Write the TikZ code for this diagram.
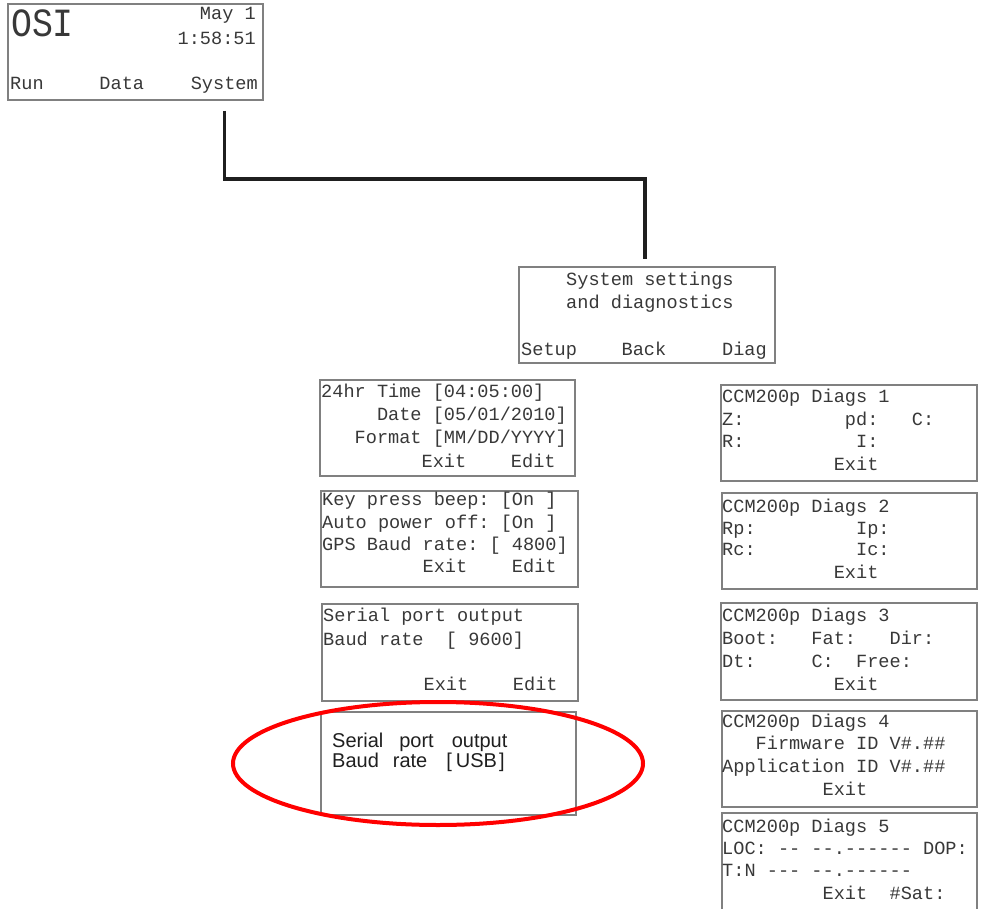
\documentclass[tikz,border=0pt]{standalone}
\usepackage{fontspec}
\usepackage{xcolor}
\usepackage{tikz}
\usetikzlibrary{positioning}
\newfontfamily\lcdfamily{Liberation Mono}
\newfontfamily\usbfamily{Liberation Sans}
\newcommand\lcdtxt{\lcdfamily\fontsize{18.6pt}{22pt}\selectfont}
\tikzset{
  screen/.style={draw=black!50, line width=1.1pt, anchor=north west, inner sep=0pt, outer sep=0pt},
  lcd/.style={font=\lcdtxt, text=black!78, anchor=base west, inner sep=0pt},
  lcdr/.style={lcd, anchor=base east},
  link/.style={line width=3.6pt, black!88},
}
\begin{document}
\begin{tikzpicture}[x=1pt,y=-1pt]
\useasboundingbox (0,0) rectangle (982,909);
% main screen
\node[screen, minimum width=255pt, minimum height=96pt] (osi) at (8,4) {};
\node[lcd, font=\lcdfamily\fontsize{40pt}{40pt}\selectfont] (osititle) at (11,37) {\scalebox{0.87}[1]{OSI}};
\node[lcdr] (osidate) at (256,20) {May~1};
\node[lcdr] (ositime) at (256,45) {1:58:51};
\node[lcd] (osirun) at (10,90) {Run~~~~~Data~~~~};
\node[lcdr] (osisys) at (258,90) {System};
% system menu
\node[screen, minimum width=256pt, minimum height=96pt] (sysset) at (519,267) {};
\node[lcd] (sys1) at (566,286) {System~settings};
\node[lcd] (sys2) at (566,308) {and~diagnostics};
\node[lcd] (sys3) at (521,355) {Setup~~~~Back~~~~~Diag};
\draw[link] ([yshift=-11pt]osi.south -| osisys) -- (osisys |- 0,179) -| ([xshift=-2pt,yshift=8pt]sysset.north);
% setup screens
\node[screen, minimum width=255pt, minimum height=96pt] (timebox) at (320,380) {};
\node[lcd] (time1) at (321,397) {24hr~Time~[04:05:00]};
\node[lcd] (time2) at (321,420) {~~~~~Date~[05/01/2010]};
\node[lcd] (time3) at (321,443) {~~~Format~[MM/DD/YYYY]};
\node[lcd] (time4) at (321,467) {~~~~~~~~~Exit~~~~Edit};
\node[screen, minimum width=257pt, minimum height=96pt] (prefbox) at (321,491) {};
\node[lcd] (pref1) at (322,505) {Key~press~beep:~[On~]};
\node[lcd] (pref2) at (322,528) {Auto~power~off:~[On~]};
\node[lcd] (pref3) at (322,550) {GPS~Baud~rate:~[~4800]};
\node[lcd] (pref4) at (322,572) {~~~~~~~~~Exit~~~~Edit};
\node[screen, minimum width=256pt, minimum height=97pt] (serialbox) at (322,604) {};
\node[lcd] (ser1) at (323,621) {Serial~port~output};
\node[lcd] (ser2) at (323,645) {Baud~rate~~[~9600]};
\node[lcd] (ser3) at (323,690) {~~~~~~~~~Exit~~~~Edit};
\node[screen, minimum width=255pt, minimum height=103pt] (usbbox) at (321,712) {};
\node[anchor=base west, inner sep=0pt, font=\usbfamily\fontsize{20pt}{20pt}\selectfont, text=black!88] (usb1) at (332,747) {Serial\hspace{16pt}port\hspace{18pt}output};
\node[anchor=base west, inner sep=0pt, font=\usbfamily\fontsize{20pt}{20pt}\selectfont, text=black!88] (usb2) at (332,767) {Baud\hspace{14pt}rate\hspace{19pt}[\hspace{4pt}USB\hspace{2pt}]};
\draw[red, line width=4pt] (438,763.5) ellipse [x radius=205pt, y radius=61.5pt];
% diagnostics screens
\node[screen, minimum width=256pt, minimum height=96pt] (diag1) at (721,385) {};
\node[lcd] (d1a) at (722,402) {CCM200p~Diags~1};
\node[lcd] (d1b) at (722,425) {Z:~~~~~~~~~pd:~~~C:};
\node[lcd] (d1c) at (722,447) {R:~~~~~~~~~~I:};
\node[lcd] (d1d) at (722,470) {~~~~~~~~~~Exit};
\node[screen, minimum width=255pt, minimum height=96pt] (diag2) at (722,493) {};
\node[lcd] (d2a) at (722,512) {CCM200p~Diags~2};
\node[lcd] (d2b) at (722,534) {Rp:~~~~~~~~~Ip:};
\node[lcd] (d2c) at (722,555) {Rc:~~~~~~~~~Ic:};
\node[lcd] (d2d) at (722,578) {~~~~~~~~~~Exit};
\node[screen, minimum width=256pt, minimum height=97pt] (diag3) at (721,603) {};
\node[lcd] (d3a) at (722,621) {CCM200p~Diags~3};
\node[lcd] (d3b) at (722,644) {Boot:~~~Fat:~~~Dir:};
\node[lcd] (d3c) at (722,667) {Dt:~~~~~C:~~Free:};
\node[lcd] (d3d) at (722,690) {~~~~~~~~~~Exit};
\node[screen, minimum width=255pt, minimum height=96pt] (diag4) at (722,711) {};
\node[lcd] (d4a) at (722,727) {CCM200p~Diags~4};
\node[lcd] (d4b) at (722,749) {~~~Firmware~ID~V\#.\#\#};
\node[lcd] (d4c) at (722,772) {Application~ID~V\#.\#\#};
\node[lcd] (d4d) at (722,795) {~~~~~~~~~Exit};
\node[screen, minimum width=255pt, minimum height=115pt] (diag5) at (722,813) {};
\node[lcd] (d5a) at (722,832) {CCM200p~Diags~5};
\node[lcd] (d5b) at (722,854) {LOC:~--~--.------~DOP:};
\node[lcd] (d5c) at (722,876) {T:N~---~--.------};
\node[lcd] (d5d) at (722,899) {~~~~~~~~~Exit~~\#Sat:};
\end{tikzpicture}
\end{document}
